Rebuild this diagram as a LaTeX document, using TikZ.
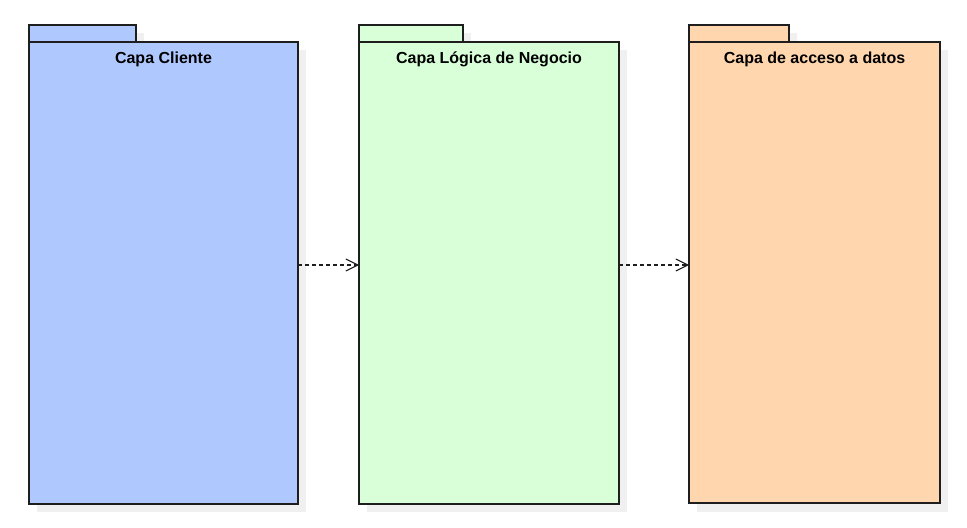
\documentclass[tikz,border=0pt]{standalone}
\usepackage{fontspec}
\setmainfont{Liberation Sans}
\usetikzlibrary{arrows.meta}
\definecolor{cblue}{RGB}{175,201,255}
\definecolor{cgreen}{RGB}{217,255,217}
\definecolor{corange}{RGB}{255,214,173}
\definecolor{cshadow}{RGB}{240,240,240}
\definecolor{cline}{RGB}{30,30,30}
\tikzset{
  pkg/.style={draw=cline, line width=0.8pt},
  shadowbox/.style={fill=cshadow, draw=none},
  title/.style={font=\bfseries\fontsize{12pt}{14pt}\selectfont, anchor=center, inner sep=0pt},
  dep/.style={draw=cline, line width=0.8pt, dash pattern=on 3pt off 2.25pt, -{Straight Barb[length=9pt,width=9pt]}},
}
\begin{document}
\begin{tikzpicture}[x=0.75pt,y=-0.75pt]
\useasboundingbox (0,0) rectangle (967,528);
% shadows
\fill[shadowbox] (37,50) rectangle (306,512);
\fill[shadowbox] (37,33) rectangle (144,50);
\fill[shadowbox] (367,50) rectangle (627,512);
\fill[shadowbox] (367,33) rectangle (471,50);
\fill[shadowbox] (697,50) rectangle (948,512);
\fill[shadowbox] (697,33) rectangle (797,50);
% package 1
\draw[pkg, fill=cblue] (29,25) rectangle (136,42);
\draw[pkg, fill=cblue] (29,42) rectangle (298,504);
\node[title] (t1) at (163.5,59.5) {Capa Cliente};
\coordinate (p1e) at (298,265);
% package 2
\draw[pkg, fill=cgreen] (359,25) rectangle (463,42);
\draw[pkg, fill=cgreen] (359,42) rectangle (619,504);
\node[title] (t2) at (489,59.5) {Capa Lógica de Negocio};
\coordinate (p2w) at (359,265);
\coordinate (p2e) at (619,265);
% package 3
\draw[pkg, fill=corange] (689,25) rectangle (789,42);
\draw[pkg, fill=corange] (689,42) rectangle (940,503);
\node[title] (t3) at (814.5,59.5) {Capa de acceso a datos};
\coordinate (p3w) at (689,265);
% dependencies
\draw[dep] (p1e) -- (p2w);
\draw[dep] (p2e) -- (p3w);
\end{tikzpicture}
\end{document}
